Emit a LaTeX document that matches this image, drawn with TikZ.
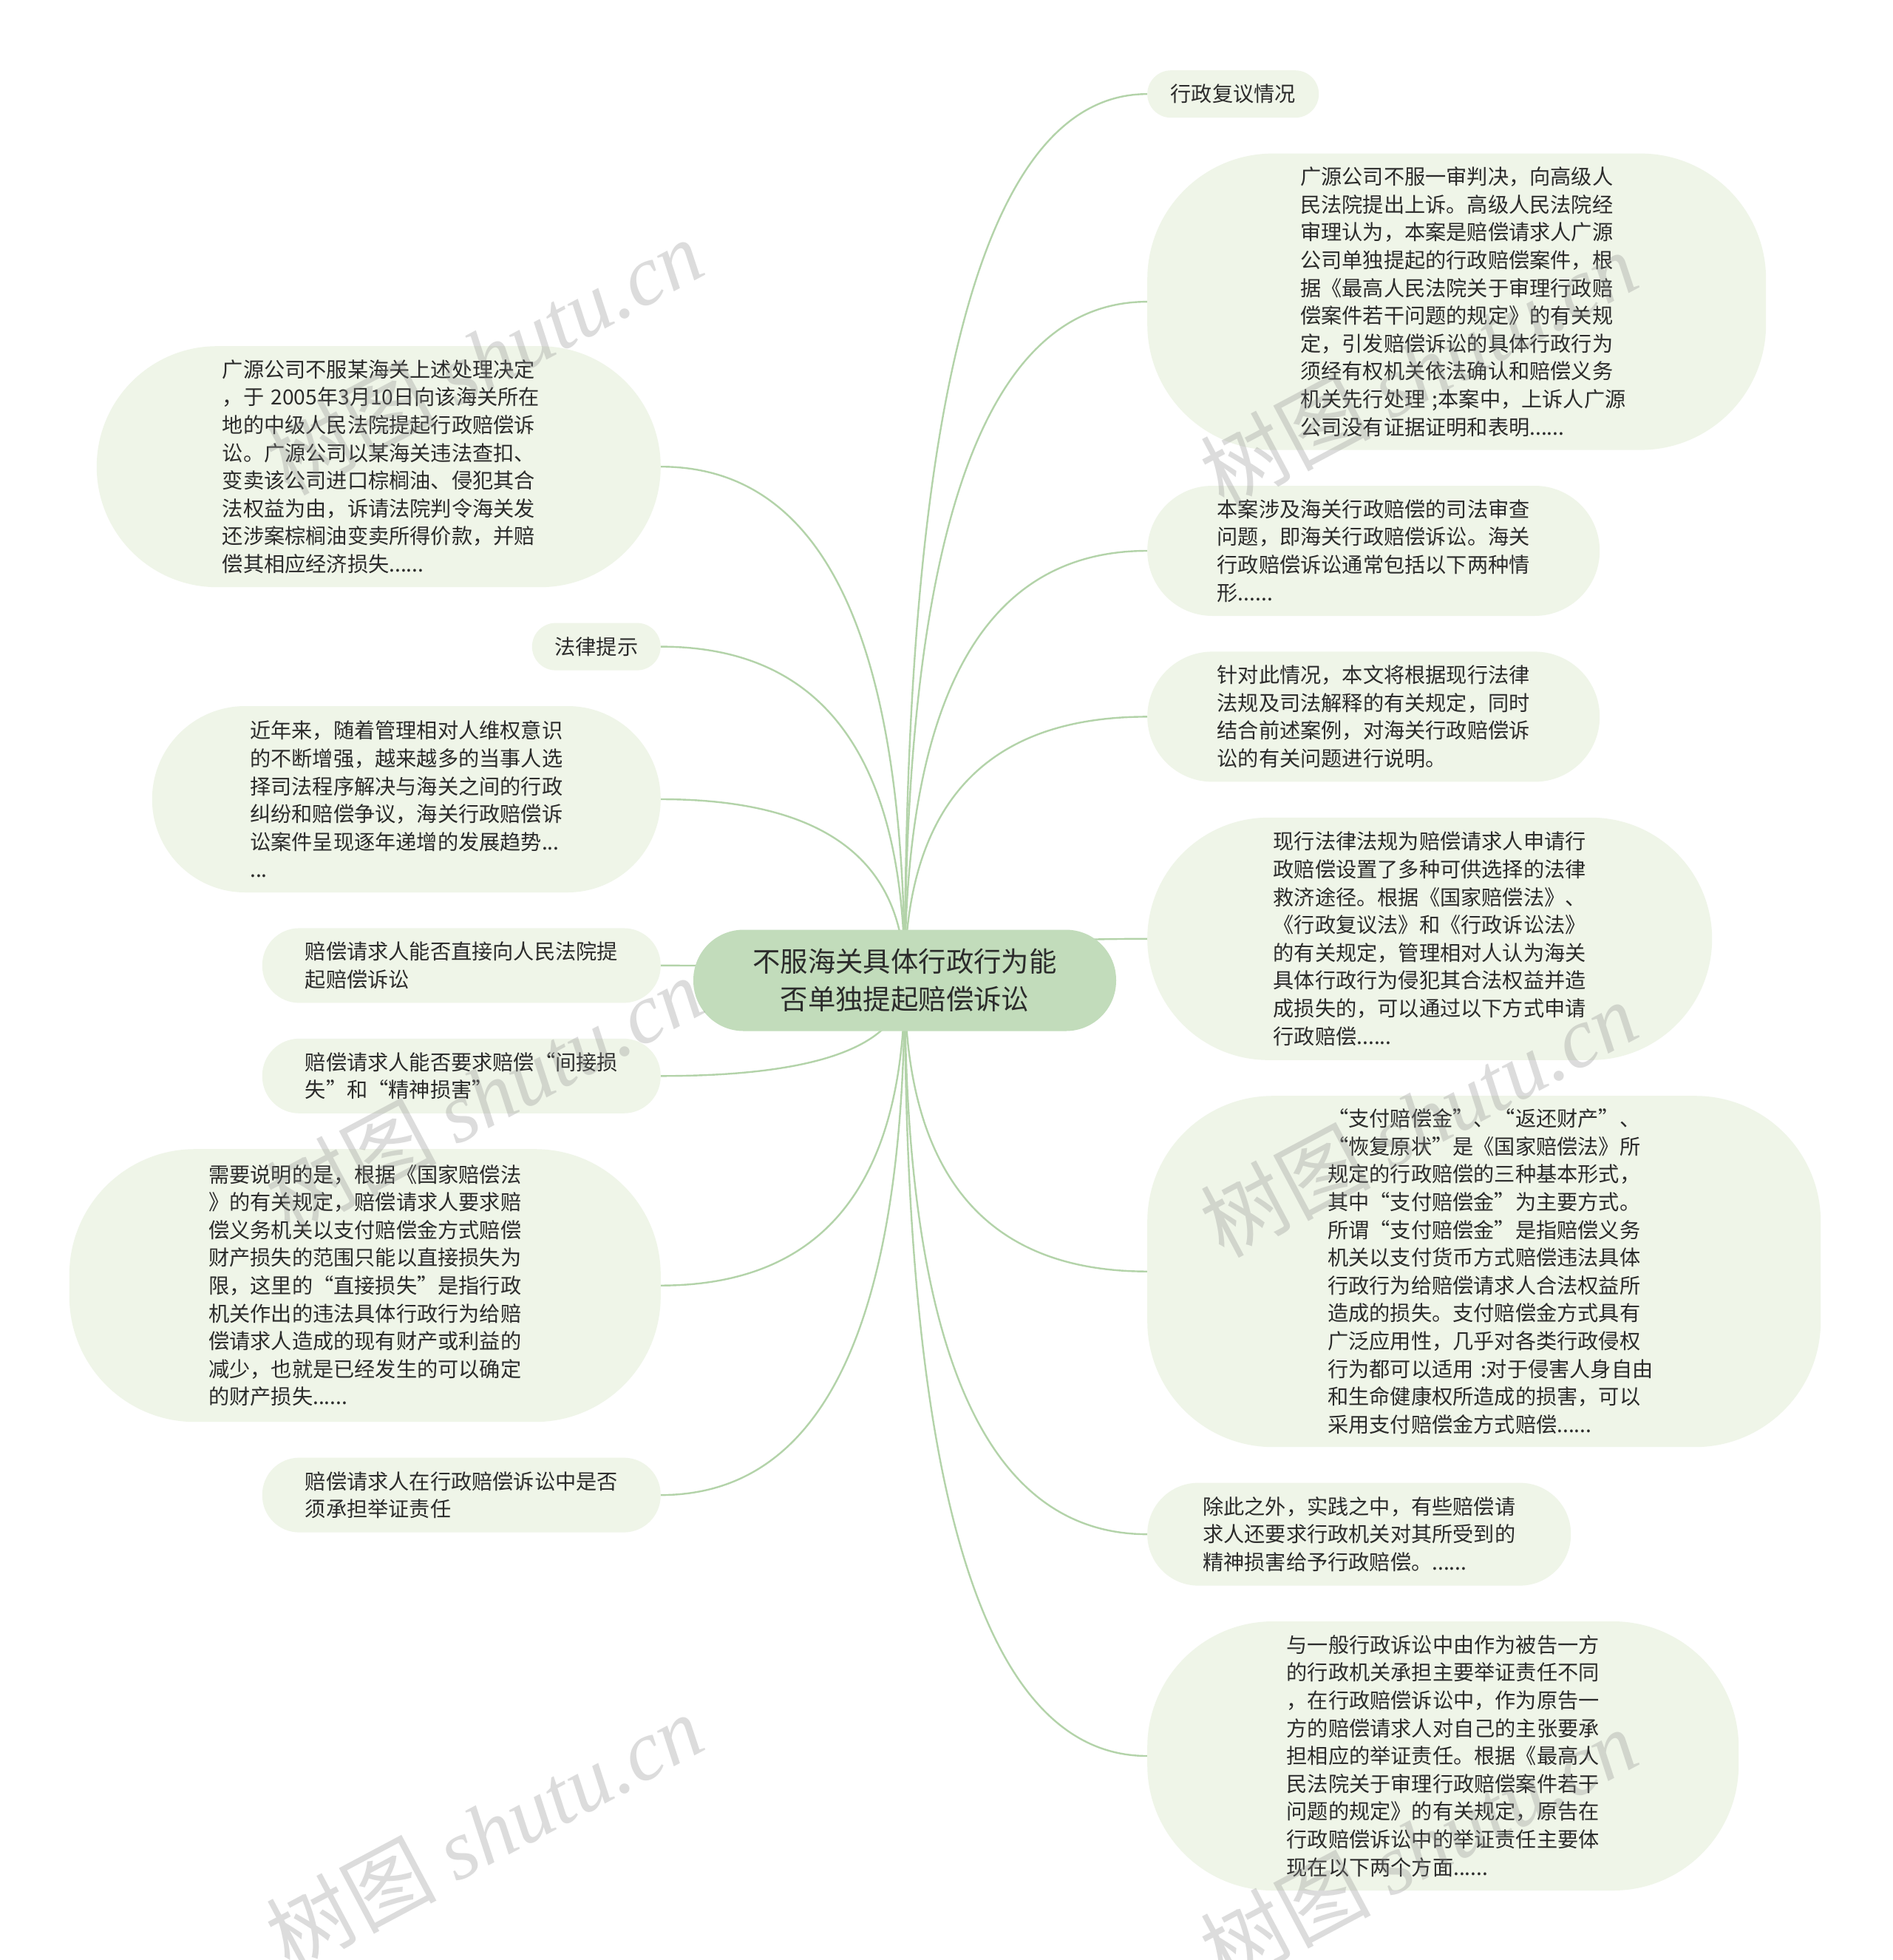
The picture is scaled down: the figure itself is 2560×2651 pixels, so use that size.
\documentclass[tikz,border=0pt]{standalone}
\usepackage{fontspec}
\setmainfont{Noto Sans CJK SC}
\newfontfamily\fwq{Noto Sans CJK SC}[RawFeature=+fwid]
\newfontfamily\wmfont{Liberation Serif}
\usetikzlibrary{positioning,calc,backgrounds}
\definecolor{leafgreen}{HTML}{EFF5E8}
\definecolor{hubgreen}{HTML}{C2DCBB}
\definecolor{branchgreen}{HTML}{B3D3A9}
\definecolor{ink}{HTML}{2B2B2B}
\definecolor{wmgray}{HTML}{8C8C8C}
\newcommand\zhq[1]{{\fwq “}#1{\fwq ”}}

\begin{document}
\begin{tikzpicture}[x=1pt,y=-1pt,
          node distance=48pt,
          every node/.style={text=ink},
          leaf/.style={fill=leafgreen,rounded corners=#1,inner sep=0pt,
              font=\fontsize{28.2}{37.6}\selectfont},
          para/.style={leaf=#1,align=left,text width=423pt},
          hubnode/.style={fill=hubgreen,rounded corners=68pt,inner sep=0pt,
              minimum width=572pt,minimum height=137pt,align=center,
              font=\fontsize{37.4}{50.7}\selectfont},
          branch/.style={draw=branchgreen,line width=2.4pt},
          wmark/.style={rotate=28,inner sep=0pt,text=wmgray,text opacity=.3,
              font=\fontsize{115}{115}\selectfont}]
        \useasboundingbox (0,0) rectangle (2560,2651);
        \node[hubnode] (hub) at (1224,1326) {不服海关具体行政行为能\\否单独提起赔偿诉讼};
        % right side
        \node[leaf=32pt,minimum width=232pt,minimum height=64pt,anchor=north west] (r1) at (1552,95) {行政复议情况};
        \node[para=170pt,minimum width=837pt,minimum height=401pt,below=of r1.south west,anchor=north west] (r2)
            {广源公司不服一审判决，向高级人\\民法院提出上诉。高级人民法院经\\审理认为，本案是赔偿请求人广源\\公司单独提起的行政赔偿案件，根\\据《最高人民法院关于审理行政赔\\偿案件若干问题的规定》的有关规\\定，引发赔偿诉讼的具体行政行为\\须经有权机关依法确认和赔偿义务\\机关先行处理~;本案中，上诉人广源\\公司没有证据证明和表明......};
        \node[para=88pt,minimum width=612pt,minimum height=176pt,below=of r2.south west,anchor=north west] (r3)
            {本案涉及海关行政赔偿的司法审查\\问题，即海关行政赔偿诉讼。海关\\行政赔偿诉讼通常包括以下两种情\\形......};
        \node[para=88pt,minimum width=612pt,minimum height=176pt,below=of r3.south west,anchor=north west] (r4)
            {针对此情况，本文将根据现行法律\\法规及司法解释的有关规定，同时\\结合前述案例，对海关行政赔偿诉\\讼的有关问题进行说明。};
        \node[para=164pt,minimum width=764pt,minimum height=328pt,below=of r4.south west,anchor=north west] (r5)
            {现行法律法规为赔偿请求人申请行\\政赔偿设置了多种可供选择的法律\\救济途径。根据《国家赔偿法》、\\《行政复议法》和《行政诉讼法》\\的有关规定，管理相对人认为海关\\具体行政行为侵犯其合法权益并造\\成损失的，可以通过以下方式申请\\行政赔偿......};
        \node[para=170pt,minimum width=911pt,minimum height=475pt,below=of r5.south west,anchor=north west] (r6)
            {\zhq{支付赔偿金}、\zhq{返还财产}、\\\zhq{恢复原状}是《国家赔偿法》所\\规定的行政赔偿的三种基本形式，\\其中\zhq{支付赔偿金}为主要方式。\\所谓\zhq{支付赔偿金}是指赔偿义务\\机关以支付货币方式赔偿违法具体\\行政行为给赔偿请求人合法权益所\\造成的损失。支付赔偿金方式具有\\广泛应用性，几乎对各类行政侵权\\行为都可以适用~:对于侵害人身自由\\和生命健康权所造成的损害，可以\\采用支付赔偿金方式赔偿......};
        \node[para=69pt,minimum width=573pt,minimum height=139pt,below=of r6.south west,anchor=north west] (r7)
            {除此之外，实践之中，有些赔偿请\\求人还要求行政机关对其所受到的\\精神损害给予行政赔偿。......};
        \node[para=170pt,minimum width=800pt,minimum height=364pt,below=of r7.south west,anchor=north west] (r8)
            {与一般行政诉讼中由作为被告一方\\的行政机关承担主要举证责任不同\\，在行政赔偿诉讼中，作为原告一\\方的赔偿请求人对自己的主张要承\\担相应的举证责任。根据《最高人\\民法院关于审理行政赔偿案件若干\\问题的规定》的有关规定，原告在\\行政赔偿诉讼中的举证责任主要体\\现在以下两个方面......};
        % left side
        \node[para=163pt,minimum width=763pt,minimum height=326pt,anchor=north east] (l1) at (894,468)
            {广源公司不服某海关上述处理决定\\，于~2005年3月10日向该海关所在\\地的中级人民法院提起行政赔偿诉\\讼。广源公司以某海关违法查扣、\\变卖该公司进口棕榈油、侵犯其合\\法权益为由，诉请法院判令海关发\\还涉案棕榈油变卖所得价款，并赔\\偿其相应经济损失......};
        \node[leaf=32pt,minimum width=174pt,minimum height=64pt,below=of l1.south east,anchor=north east] (l2) {法律提示};
        \node[para=126pt,minimum width=688pt,minimum height=252pt,below=of l2.south east,anchor=north east] (l3)
            {近年来，随着管理相对人维权意识\\的不断增强，越来越多的当事人选\\择司法程序解决与海关之间的行政\\纠纷和赔偿争议，海关行政赔偿诉\\讼案件呈现逐年递增的发展趋势...\\...};
        \node[para=50pt,minimum width=539pt,minimum height=101pt,below=of l3.south east,anchor=north east] (l4)
            {赔偿请求人能否直接向人民法院提\\起赔偿诉讼};
        \node[para=50pt,minimum width=539pt,minimum height=101pt,below=of l4.south east,anchor=north east] (l5)
            {赔偿请求人能否要求赔偿\zhq{间接损\\失}和\zhq{精神损害}};
        \node[para=170pt,minimum width=800pt,minimum height=369pt,below=of l5.south east,anchor=north east] (l6)
            {需要说明的是，根据《国家赔偿法\\》的有关规定，赔偿请求人要求赔\\偿义务机关以支付赔偿金方式赔偿\\财产损失的范围只能以直接损失为\\限，这里的\zhq{直接损失}是指行政\\机关作出的违法具体行政行为给赔\\偿请求人造成的现有财产或利益的\\减少，也就是已经发生的可以确定\\的财产损失......};
        \node[para=50pt,minimum width=539pt,minimum height=101pt,below=of l6.south east,anchor=north east] (l7)
            {赔偿请求人在行政赔偿诉讼中是否\\须承担举证责任};
        % branches
        \begin{scope}[on background layer]
          \fill[white] (0,0) rectangle (2560,2651);
          \foreach \n in {1,...,8}{
            \coordinate (kr\n) at (hub.center |- r\n.west);
            \draw[branch] (hub.center) .. controls ($(hub.center)!.667!(kr\n)$) and ($(r\n.west)!.667!(kr\n)$) .. (r\n.west);
          }
          \foreach \n in {1,...,7}{
            \coordinate (kl\n) at (hub.center |- l\n.east);
            \draw[branch] (hub.center) .. controls ($(hub.center)!.667!(kl\n)$) and ($(l\n.east)!.667!(kl\n)$) .. (l\n.east);
          }
        \end{scope}
        % watermark
        \node[wmark] (w1) at (655,482) {树图 {\wmfont\itshape shutu.cn}};
        \node[wmark] (w2) at (655,1480) {树图 {\wmfont\itshape shutu.cn}};
        \node[wmark] (w3) at (655,2477) {树图 {\wmfont\itshape shutu.cn}};
        \node[wmark] (w4) at (1919,499) {树图 {\wmfont\itshape shutu.cn}};
        \node[wmark] (w5) at (1919,1513) {树图 {\wmfont\itshape shutu.cn}};
        \node[wmark] (w6) at (1919,2497) {树图 {\wmfont\itshape shutu.cn}};
      \end{tikzpicture}
\end{document}
